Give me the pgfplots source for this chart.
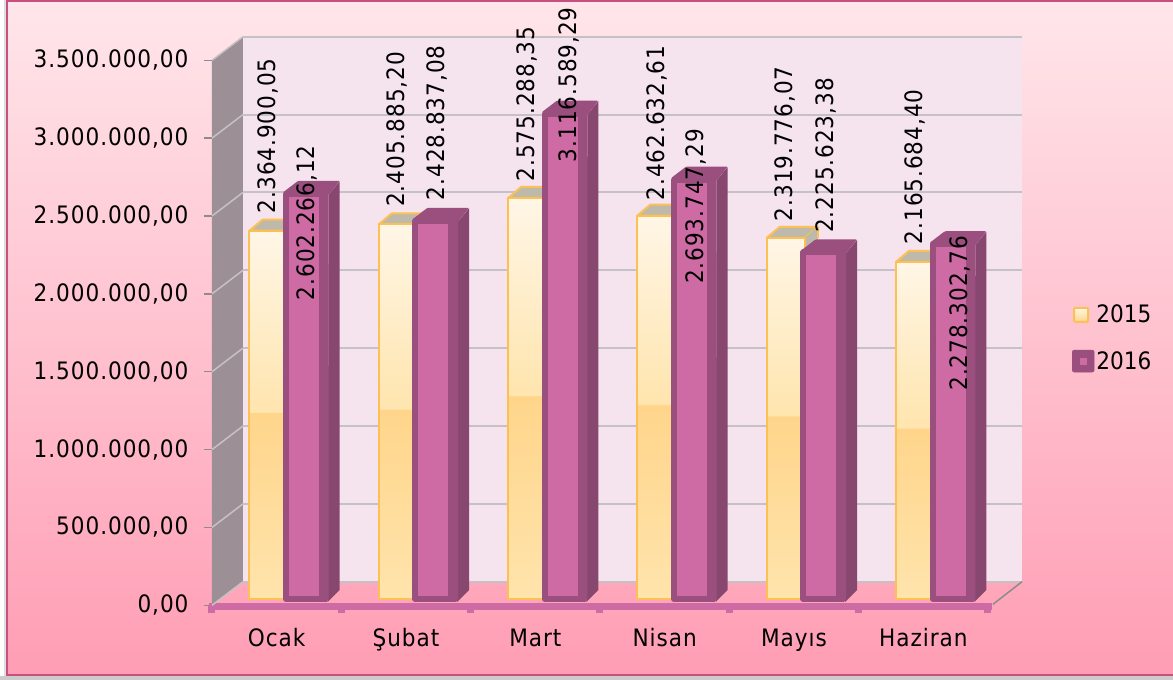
\documentclass[border=0pt]{standalone}
\usepackage{fontspec}
\setmainfont{DejaVu Sans Condensed}
\newfontfamily\spacedf[LetterSpace=4]{DejaVu Sans Condensed}
\usepackage{pgfplots}
\usepackage{pgfplotstable}
\pgfplotsset{compat=1.18}
\definecolor{wallback}{HTML}{F5E3EE}
\definecolor{wallside}{HTML}{9C9096}
\definecolor{gridc}{HTML}{C6C1C4}
\definecolor{edgeO}{HTML}{FCC055}
\definecolor{topG}{HTML}{BDB9AB}
\definecolor{pinkF}{HTML}{CE6AA4}
\definecolor{darkP}{HTML}{9B4F7E}
\definecolor{darkQ}{HTML}{88476F}
\definecolor{c0}{HTML}{FFE4AC}
\definecolor{c1}{HTML}{FFD58B}
\definecolor{c2}{HTML}{FFE5AE}
\definecolor{c3}{HTML}{FFF6E6}
\pgfdeclareverticalshading{barA}{100bp}{color(0bp)=(c0);color(25bp)=(c0);color(50.3bp)=(c1);color(50.4bp)=(c2);color(75bp)=(c3);color(100bp)=(c3)}
\newcommand{\lfont}{\spacedf\fontsize{24}{28}\selectfont}
\newcommand{\legfont}{\fontsize{24}{28}\selectfont}
\pgfplotstableread{
x   y          label        lbx    lby
0.5 2364900.05 2.364.900,05 -8.5   95
1.5 2405885.20 2.405.885,20 -9     95
2.5 2575288.35 2.575.288,35 -8     94
3.5 2462632.61 2.462.632,61 -8     92.5
4.5 2319776.07 2.319.776,07 -9     94
5.5 2165684.40 2.165.684,40 -8     95
}\dataA
\pgfplotstableread{
x   y          label        lbx    lby
0.5 2602266.12 2.602.266,12 30    -29
1.5 2428837.08 2.428.837,08 31     98
2.5 3116589.29 3.116.589,29 34     29
3.5 2693747.29 2.693.747,29 31    -27
4.5 2225623.38 2.225.623,38 32     97
5.5 2278302.76 2.278.302,76 37    -69
}\dataB
% one 2015 bar with its 3D faces: #1 category position, #2 value
\newcommand{\barA}[2]{%
  \filldraw[fill=topG,draw=edgeO,line width=2pt,line join=round]
    ([shift={(-27.2pt,0pt)}]axis cs:#1,#2) -- ([shift={(-14.2pt,11pt)}]axis cs:#1,#2)
    -- ([shift={(23.8pt,11pt)}]axis cs:#1,#2) -- ([shift={(10.8pt,0pt)}]axis cs:#1,#2) -- cycle;
  \fill[topG]
    ([shift={(10.8pt,0pt)}]axis cs:#1,#2) -- ([shift={(23.8pt,11pt)}]axis cs:#1,#2)
    -- ([shift={(23.8pt,11pt)}]axis cs:#1,0) -- ([shift={(10.8pt,0pt)}]axis cs:#1,0) -- cycle;
  \draw[edgeO,line width=2pt] ([shift={(23.8pt,11pt)}]axis cs:#1,#2) -- ([shift={(23.8pt,0pt)}]axis cs:#1,#2);
  \addplot[ybar,bar width=38pt,bar shift=-8.2pt,draw=edgeO,line width=2pt,line join=round,shade,shading=barA,forget plot]
    coordinates {(#1,#2)};
}
% 3D faces of one 2016 bar
\newcommand{\facesB}[2]{%
  \fill[darkP,rounded corners=1pt]
    ([shift={(6.5pt,1.5pt)}]axis cs:#1,#2) -- ([shift={(21.5pt,13pt)}]axis cs:#1,#2)
    -- ([shift={(63pt,13pt)}]axis cs:#1,#2) -- ([shift={(52pt,-1pt)}]axis cs:#1,#2) -- cycle;
  \fill[darkQ]
    ([shift={(52pt,-1pt)}]axis cs:#1,#2) -- ([shift={(63pt,12.5pt)}]axis cs:#1,#2)
    -- ([shift={(63pt,9pt)}]axis cs:#1,0) -- ([shift={(51pt,-3pt)}]axis cs:#1,0) -- cycle;
  \fill[darkP]
    ([shift={(42pt,0pt)}]axis cs:#1,#2) -- ([shift={(52pt,0pt)}]axis cs:#1,#2)
    -- ([shift={(52pt,0pt)}]axis cs:#1,0) -- ([shift={(50pt,-3pt)}]axis cs:#1,0) -- ([shift={(42pt,-3pt)}]axis cs:#1,0) -- cycle;
}
\begin{document}
\begin{tikzpicture}[x=1pt,y=1pt]
\path[use as bounding box] (0,0) rectangle (1173,680);
\fill[white] (0,0) rectangle (1173,680);
\fill[gray!40] (0,0) rectangle (1173,4);
\fill[gray!25] (4,4) rectangle (7,680);
\shade[bottom color={rgb,255:red,255;green,157;blue,180},top color={rgb,255:red,255;green,230;blue,234}]
  (7,4) rectangle (1174,679);
\draw[color={rgb,255:red,200;green,80;blue,126},line width=2pt] (1180,4.5) -- (6.5,4.5) -- (6.5,679.2) -- (1180,679.2);
% back wall
\begin{axis}[at={(243pt,98.3pt)},anchor=south west,scale only axis,width=779pt,height=545pt,
  xmin=0,xmax=6,ymin=0,ymax=3500000,xtick=\empty,scaled y ticks=false,
  ytick={0,500000,1000000,1500000,2000000,2500000,3000000,3500000},yticklabels={},
  ymajorgrids,grid style={color=gridc,line width=2pt},tick style={draw=none},
  axis line style={draw=none},axis background/.style={fill=wallback},clip=false]
\addplot[draw=none,forget plot] coordinates {(0,0)(6,0)};
\end{axis}
% front plane: value axis, category axis, side wall
\begin{axis}[at={(212pt,74.7pt)},anchor=south west,scale only axis,width=776pt,height=545pt,
  xmin=0,xmax=6,ymin=0,ymax=3500000,clip=false,
  axis y line*=left,axis x line*=bottom,
  y axis line style={draw=none},
  x axis line style={color=pinkF,line width=7pt,-,yshift=-1.2pt,shorten <=-3pt,shorten >=-4pt},
  xtick={0,1,2,3,4,5,6},xticklabels={},
  extra x ticks={0.5,1.5,2.5,3.5,4.5,5.5},
  extra x tick labels={Ocak,Şubat,Mart,Nisan,Mayıs,Haziran},
  extra x tick style={xtick style={draw=none},
     xticklabel style={yshift=-12pt,text height=18pt,text depth=5pt}},
  ytick={0,500000,1000000,1500000,2000000,2500000,3000000,3500000},
  tick align=outside,major tick length=8pt,
  xtick style={color=pinkF,line width=7pt},
  ytick style={color=gray!90!white,line width=1.5pt},
  tick label style={font=\lfont},
  yticklabel style={xshift=-12pt},
  scaled y ticks=false,
  /pgf/number format/assume math mode=true,
  /pgf/number format/fixed,/pgf/number format/fixed zerofill,/pgf/number format/precision=2,
  /pgf/number format/1000 sep={.},/pgf/number format/dec sep={,}]
\addplot[draw=none,forget plot] coordinates {(0,0)(6,0)};
\fill[wallside] (axis cs:0,0) -- ([shift={(31pt,23.6pt)}]axis cs:0,0) -- ([shift={(31pt,23.6pt)}]axis cs:0,3500000) -- (axis cs:0,3500000) -- cycle;
\pgfplotsinvokeforeach{0,500000,1000000,1500000,2000000,2500000,3000000,3500000}{
  \draw[color=gridc,line width=1.5pt] (axis cs:0,#1) -- ([shift={(31pt,23.6pt)}]axis cs:0,#1);
}
\draw[color=gray!90!white,line width=1.5pt] ([shift={(34pt,23.6pt)}]axis cs:6,0) -- ([shift={(5pt,1pt)}]axis cs:6,0);
\end{axis}
% bars
\begin{axis}[at={(212pt,81pt)},anchor=south west,scale only axis,width=776pt,height=545pt,
  xmin=0,xmax=6,ymin=0,ymax=3500000,hide axis,clip=false,
  legend style={at={(1.108,0.479)},anchor=west,draw=none,fill=none,font=\legfont,
    inner sep=0pt,row sep=23pt,cells={anchor=west},legend cell align=left}]
\barA{0.5}{2364900.05}\barA{1.5}{2405885.20}\barA{2.5}{2575288.35}
\barA{3.5}{2462632.61}\barA{4.5}{2319776.07}\barA{5.5}{2165684.40}
\addlegendimage{legend image code/.code={
    \draw[draw=edgeO,line width=2pt,shade,top color=c3,bottom color=c1,rounded corners=1pt] (6pt,-7pt) rectangle (20pt,7pt);}}
\addlegendentry{2015}
\facesB{0.5}{2602266.12}\facesB{1.5}{2428837.08}\facesB{2.5}{3116589.29}
\facesB{3.5}{2693747.29}\facesB{4.5}{2225623.38}\facesB{5.5}{2278302.76}
\addplot[ybar,bar width=36pt,bar shift=27.3pt,draw=darkP,fill=pinkF,line width=6pt,line join=round,forget plot]
  table[x=x,y=y] {\dataB};
\addlegendimage{legend image code/.code={
    \fill[darkP,rounded corners=2pt] (4pt,-11pt) rectangle (26pt,11pt);
    \fill[pinkF] (12pt,-3pt) rectangle (18pt,3pt);}}
\addlegendentry{2016}
\pgfplotsset{lab/.style={draw=none,mark=none,forget plot,point meta=explicit symbolic,nodes near coords,
  visualization depends on={\thisrow{lbx} \as \lbx},
  visualization depends on={\thisrow{lby} \as \lby},
  every node near coord/.append style={xshift=\lbx pt,yshift=\lby pt,rotate=90,anchor=center,font=\lfont,inner sep=0pt,text=black}}}
\addplot[lab] table[x=x,y=y,meta=label] {\dataA};
\addplot[lab] table[x=x,y=y,meta=label] {\dataB};
\end{axis}
\end{tikzpicture}
\end{document}
